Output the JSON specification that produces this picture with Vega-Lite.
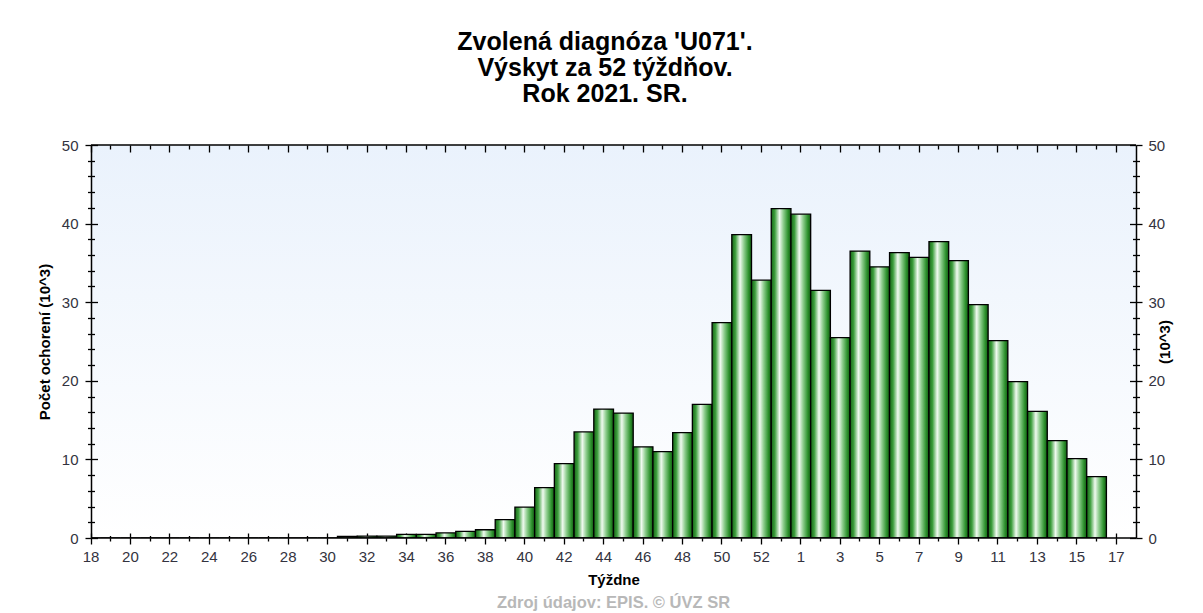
{
  "$schema": "https://vega.github.io/schema/vega-lite/v6.json",
  "padding": {"left": 37, "top": 30, "right": 5, "bottom": 5},
  "background": "white",
  "title": {
    "text": ["Zvolená diagnóza 'U071'.", "Výskyt za 52 týždňov.", "Rok 2021. SR."],
    "font": "Liberation Sans",
    "fontSize": 25,
    "fontWeight": "bold",
    "lineHeight": 26,
    "color": "#000000",
    "anchor": "middle",
    "offset": 31
  },
  "config": {
    "font": "Liberation Sans",
    "view": {
      "stroke": null,
      "fill": {
        "gradient": "linear",
        "x1": 0, "y1": 0, "x2": 0, "y2": 1,
        "stops": [
          {"offset": 0, "color": "#eaf2fc"},
          {"offset": 1, "color": "#ffffff"}
        ]
      }
    },
    "axis": {
      "grid": false,
      "domainColor": "#000000",
      "domainWidth": 1.5,
      "tickColor": "#000000",
      "tickWidth": 1.3,
      "labelFont": "Liberation Sans",
      "labelFontSize": 15,
      "labelColor": "#333340",
      "titleFont": "Liberation Sans",
      "titleFontSize": 15,
      "titleFontWeight": "bold",
      "titleColor": "#000000"
    }
  },
  "vconcat": [
    {
      "width": 1045,
      "height": 393,
      "title": {
        "text": "Zdroj údajov: EPIS. © ÚVZ SR",
        "orient": "bottom",
        "anchor": "middle",
        "font": "Liberation Sans",
        "fontSize": 16.5,
        "fontWeight": "bold",
        "color": "#b8b8b8",
        "offset": 8
      },
      "data": {
        "values": [
          {"tyzden": 18, "pocet": 0}, {"tyzden": 19, "pocet": 0}, {"tyzden": 20, "pocet": 0},
          {"tyzden": 21, "pocet": 0}, {"tyzden": 22, "pocet": 0}, {"tyzden": 23, "pocet": 0},
          {"tyzden": 24, "pocet": 0}, {"tyzden": 25, "pocet": 0}, {"tyzden": 26, "pocet": 0},
          {"tyzden": 27, "pocet": 0}, {"tyzden": 28, "pocet": 0}, {"tyzden": 29, "pocet": 0},
          {"tyzden": 30, "pocet": 0}, {"tyzden": 31, "pocet": 0.2}, {"tyzden": 32, "pocet": 0.25},
          {"tyzden": 33, "pocet": 0.25}, {"tyzden": 34, "pocet": 0.45}, {"tyzden": 35, "pocet": 0.45},
          {"tyzden": 36, "pocet": 0.65}, {"tyzden": 37, "pocet": 0.85}, {"tyzden": 38, "pocet": 1.05},
          {"tyzden": 39, "pocet": 2.33}, {"tyzden": 40, "pocet": 3.94}, {"tyzden": 41, "pocet": 6.4},
          {"tyzden": 42, "pocet": 9.45}, {"tyzden": 43, "pocet": 13.5}, {"tyzden": 44, "pocet": 16.4},
          {"tyzden": 45, "pocet": 15.9}, {"tyzden": 46, "pocet": 11.6}, {"tyzden": 47, "pocet": 11.0},
          {"tyzden": 48, "pocet": 13.4}, {"tyzden": 49, "pocet": 17.0}, {"tyzden": 50, "pocet": 27.4},
          {"tyzden": 51, "pocet": 38.6}, {"tyzden": 52, "pocet": 32.8}, {"tyzden": 53, "pocet": 41.9},
          {"tyzden": 1, "pocet": 41.2}, {"tyzden": 2, "pocet": 31.5}, {"tyzden": 3, "pocet": 25.5},
          {"tyzden": 4, "pocet": 36.5}, {"tyzden": 5, "pocet": 34.5}, {"tyzden": 6, "pocet": 36.3},
          {"tyzden": 7, "pocet": 35.7}, {"tyzden": 8, "pocet": 37.7}, {"tyzden": 9, "pocet": 35.3},
          {"tyzden": 10, "pocet": 29.7}, {"tyzden": 11, "pocet": 25.1}, {"tyzden": 12, "pocet": 19.9},
          {"tyzden": 13, "pocet": 16.1}, {"tyzden": 14, "pocet": 12.4}, {"tyzden": 15, "pocet": 10.1},
          {"tyzden": 16, "pocet": 7.8}
        ]
      },
      "resolve": {"axis": {"x": "independent", "y": "independent"}},
      "layer": [
        {
          "mark": {
            "type": "bar",
            "clip": true,
            "stroke": "#000000",
            "strokeWidth": 1.3,
            "fill": {
              "gradient": "linear",
              "x1": 0, "y1": 0, "x2": 1, "y2": 0,
              "stops": [
                {"offset": 0, "color": "#176517"},
                {"offset": 0.18, "color": "#3c9e3c"},
                {"offset": 0.42, "color": "#f0faf0"},
                {"offset": 0.62, "color": "#8ccc8c"},
                {"offset": 0.85, "color": "#2e922e"},
                {"offset": 1, "color": "#135a13"}
              ]
            }
          },
          "encoding": {
            "x": {
              "field": "tyzden",
              "type": "ordinal",
              "scale": {
                "domain": [18,19,20,21,22,23,24,25,26,27,28,29,30,31,32,33,34,35,36,37,38,39,40,41,42,43,44,45,46,47,48,49,50,51,52,53,1,2,3,4,5,6,7,8,9,10,11,12,13,14,15,16,17,"end"],
                "range": [-9.858, 1054.858],
                "paddingInner": 0,
                "paddingOuter": 0
              },
              "axis": {
                "orient": "bottom",
                "title": "Týždne",
                "titlePadding": 8,
                "domain": false,
                "values": [18,19,20,21,22,23,24,25,26,27,28,29,30,31,32,33,34,35,36,37,38,39,40,41,42,43,44,45,46,47,48,49,50,51,52,53,1,2,3,4,5,6,7,8,9,10,11,12,13,14,15,16,17],
                "labelExpr": "(datum.value >= 18) == (datum.value % 2 == 0) ? datum.label : ''",
                "labelAngle": 0,
                "labelPadding": 5,
                "tickSize": {"condition": {"test": "(datum.value >= 18) == (datum.value % 2 == 0)", "value": 6}, "value": 3}
              }
            },
            "y": {
              "field": "pocet",
              "type": "quantitative",
              "scale": {"domain": [0, 50], "nice": false},
              "axis": {
                "orient": "left",
                "title": "Počet ochorení (10^3)",
                "titlePadding": 9,
                "values": [0,2,4,6,8,10,12,14,16,18,20,22,24,26,28,30,32,34,36,38,40,42,44,46,48,50],
                "labelExpr": "datum.value % 10 == 0 ? datum.label : ''",
                "labelPadding": 7,
                "tickSize": {"condition": {"test": "datum.value % 10 == 0", "value": 6}, "value": 3.5}
              }
            }
          }
        },
        {
          "mark": {"type": "bar", "opacity": 0},
          "encoding": {
            "x": {
              "field": "tyzden",
              "type": "ordinal",
              "axis": {
                "orient": "bottom",
                "title": null,
                "labels": false,
                "domain": false,
                "values": [18,19,20,21,22,23,24,25,26,27,28,29,30,31,32,33,34,35,36,37,38,39,40,41,42,43,44,45,46,47,48,49,50,51,52,53,1,2,3,4,5,6,7,8,9,10,11,12,13,14,15,16,17],
                "tickSize": {"condition": {"test": "(datum.value >= 18) == (datum.value % 2 == 0)", "value": -5}, "value": -2.5}
              }
            },
            "y": {
              "field": "pocet",
              "type": "quantitative",
              "axis": {
                "orient": "left",
                "title": null,
                "labels": false,
                "domain": false,
                "values": [0,2,4,6,8,10,12,14,16,18,20,22,24,26,28,30,32,34,36,38,40,42,44,46,48,50],
                "tickSize": {"condition": {"test": "datum.value % 10 == 0", "value": -6.5}, "value": -3.5}
              }
            }
          }
        },
        {
          "mark": {"type": "bar", "opacity": 0},
          "encoding": {
            "x": {
              "field": "tyzden",
              "type": "ordinal",
              "axis": {
                "orient": "top",
                "title": null,
                "labels": false,
                "domain": false,
                "values": [18,19,20,21,22,23,24,25,26,27,28,29,30,31,32,33,34,35,36,37,38,39,40,41,42,43,44,45,46,47,48,49,50,51,52,53,1,2,3,4,5,6,7,8,9,10,11,12,13,14,15,16,17],
                "tickSize": {"condition": {"test": "(datum.value >= 18) == (datum.value % 2 == 0)", "value": -7}, "value": -4}
              }
            },
            "y": {
              "field": "pocet",
              "type": "quantitative",
              "axis": {
                "orient": "right",
                "title": "(10^3)",
                "titleAngle": 270,
                "titlePadding": 8,
                "values": [0,2,4,6,8,10,12,14,16,18,20,22,24,26,28,30,32,34,36,38,40,42,44,46,48,50],
                "labelExpr": "datum.value % 10 == 0 ? datum.label : ''",
                "labelPadding": 6,
                "tickSize": {"condition": {"test": "datum.value % 10 == 0", "value": 6}, "value": 3.5}
              }
            }
          }
        },
        {
          "mark": {"type": "bar", "opacity": 0},
          "encoding": {
            "x": {"field": "tyzden", "type": "ordinal", "axis": null},
            "y": {
              "field": "pocet",
              "type": "quantitative",
              "axis": {
                "orient": "right",
                "title": null,
                "labels": false,
                "domain": false,
                "values": [0,2,4,6,8,10,12,14,16,18,20,22,24,26,28,30,32,34,36,38,40,42,44,46,48,50],
                "tickSize": {"condition": {"test": "datum.value % 10 == 0", "value": -6.5}, "value": -3.5}
              }
            }
          }
        },
        {
          "data": {"values": [{"hranica": 0}, {"hranica": 50}]},
          "mark": {"type": "rule", "color": "#000000", "strokeWidth": 1.5},
          "encoding": {
            "y": {"field": "hranica", "type": "quantitative", "axis": null}
          }
        }
      ]
    }
  ]
}
